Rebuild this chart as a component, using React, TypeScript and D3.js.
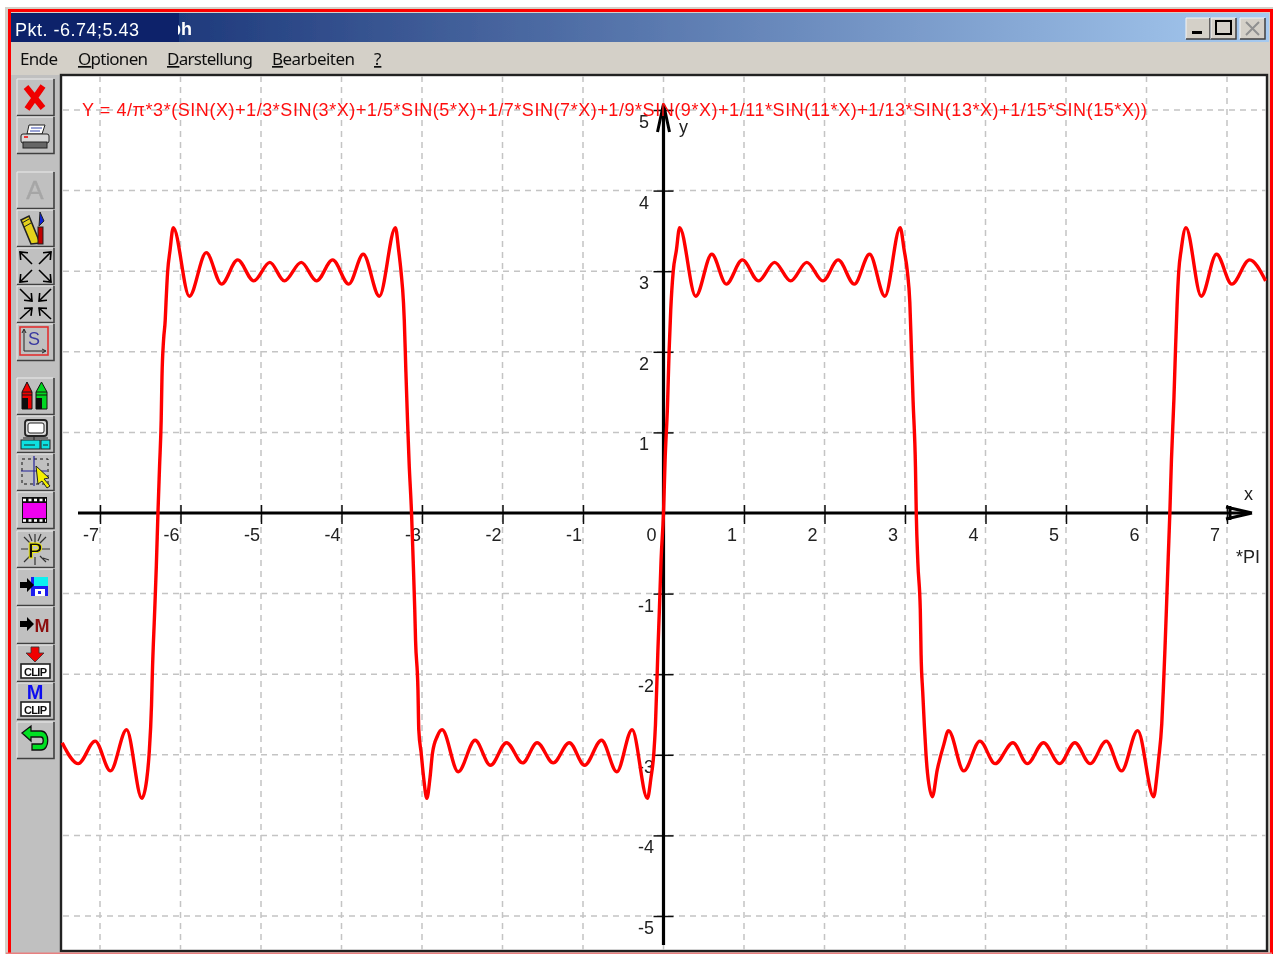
import React, { useRef, useEffect } from 'react';
import * as d3 from 'd3';

const W = 1274;
const H = 954;

// values, in axis units
const sweepAX = [-7.47, -7.27, -7.06, -6.87, -6.67, -6.48, -6.42, -6.39, -6.36, -6.35, -6.32, -6.30, -6.28, -6.26, -6.24, -6.23, -6.21, -6.19, -6.18, -6.16, -6.13, -6.09];
const sweepAY = [-2.85, -3.11, -2.83, -3.20, -2.69, -3.54, -3.31, -2.99, -2.38, -2.00, -1.20, -0.65, 0.00, 0.58, 1.15, 1.69, 2.15, 2.39, 2.61, 2.99, 3.26, 3.54];
const sweepBX = [-5.89, -5.68, -5.49, -5.29, -5.09, -4.89, -4.71, -4.50, -4.31, -4.11, -3.91, -3.73, -3.53, -3.33, -3.29, -3.26, -3.23, -3.22, -3.20, -3.18, -3.16, -3.13, -3.11, -3.09, -3.08, -3.05, -3.04, -3.01, -2.98, -2.94];
const sweepBY = [2.69, 3.23, 2.84, 3.14, 2.88, 3.11, 2.88, 3.11, 2.88, 3.14, 2.84, 3.21, 2.69, 3.54, 3.26, 2.99, 2.61, 2.39, 1.75, 1.15, 0.62, 0.00, -0.58, -1.20, -1.58, -2.20, -2.69, -2.98, -3.28, -3.54];
const sweepCX = [-2.90, -2.87, -2.81, -2.75, -2.55, -2.34, -2.15, -1.95, -1.75, -1.57, -1.37, -1.17, -0.98, -0.77, -0.58, -0.39, -0.20, -0.155, -0.12, -0.10, -0.07, -0.05, -0.03, 0.00, 0.02, 0.05, 0.07, 0.09, 0.12, 0.16, 0.20];
const sweepCY = [-3.28, -2.98, -2.77, -2.69, -3.21, -2.82, -3.13, -2.85, -3.10, -2.85, -3.10, -2.85, -3.13, -2.82, -3.21, -2.69, -3.54, -3.28, -2.98, -2.63, -1.72, -1.17, -0.58, 0.00, 0.66, 1.34, 2.02, 2.52, 2.99, 3.26, 3.54];
const sweepDX = [0.40, 0.60, 0.78, 0.98, 1.18, 1.38, 1.58, 1.78, 1.98, 2.17, 2.37, 2.56, 2.75, 2.94, 2.99, 3.03, 3.06, 3.08, 3.10, 3.13, 3.14, 3.16, 3.19, 3.20, 3.22, 3.24, 3.26, 3.28, 3.34];
const sweepDY = [2.69, 3.21, 2.84, 3.14, 2.88, 3.11, 2.88, 3.11, 2.88, 3.14, 2.84, 3.21, 2.69, 3.54, 3.26, 2.99, 2.61, 2.02, 1.40, 0.57, 0.00, -0.62, -1.20, -1.76, -2.22, -2.63, -2.98, -3.23, -3.52];
const sweepEX = [3.40, 3.48, 3.54, 3.73, 3.93, 4.12, 4.34, 4.52, 4.72, 4.92, 5.11, 5.30, 5.50, 5.69, 5.89, 6.09, 6.13, 6.15, 6.19, 6.21, 6.23, 6.25, 6.27, 6.29, 6.31, 6.34, 6.36, 6.38, 6.40, 6.43, 6.49, 6.68, 6.87, 7.06, 7.28, 7.48];
const sweepEY = [-3.19, -2.88, -2.70, -3.20, -2.83, -3.11, -2.85, -3.11, -2.85, -3.11, -2.85, -3.11, -2.83, -3.20, -2.70, -3.52, -3.25, -3.06, -2.61, -2.17, -1.67, -1.12, -0.55, 0.00, 0.66, 1.40, 2.02, 2.58, 2.99, 3.26, 3.54, 2.69, 3.21, 2.84, 3.14, 2.88];

const xTicks = [-7, -6, -5, -4, -3, -2, -1, 0, 1, 2, 3, 4, 5, 6, 7];
const yTicks = [-5, -4, -3, -2, -1, 0, 1, 2, 3, 4, 5];
const formula = 'Y = 4/π*3*(SIN(X)+1/3*SIN(3*X)+1/5*SIN(5*X)+1/7*SIN(7*X)+1/9*SIN(9*X)+1/11*SIN(11*X)+1/13*SIN(13*X)+1/15*SIN(15*X))';
const menuItems = [
  { label: 'Ende', x: 20, w: 38, ul: false },
  { label: 'Optionen', x: 78, w: 70, ul: true },
  { label: 'Darstellung', x: 167, w: 86, ul: true },
  { label: 'Bearbeiten', x: 272, w: 83, ul: true },
  { label: '?', x: 374, w: 8, ul: true },
];
const buttonTops = [79, 117, 172, 210, 248, 286, 324, 378, 416, 454, 492, 531, 569, 607, 645, 683, 722];

const sans = '"Liberation Sans", Arial, sans-serif';
const ui = '"Noto Sans", Tahoma, sans-serif';

const arrow = (x1: number, y1: number, x2: number, y2: number, key: string, color = '#000') => {
  const a = Math.atan2(y2 - y1, x2 - x1);
  const p = (d: number) => `${x2 - 8 * Math.cos(a + d)},${y2 - 8 * Math.sin(a + d)}`;
  return (
    <g key={key} stroke={color} fill="none" strokeWidth={1.6}>
      <line x1={x1} y1={y1} x2={x2} y2={y2} />
      <polyline points={`${p(0.7)} ${x2},${y2} ${p(-0.7)}`} />
    </g>
  );
};

const ClipBox = () => (
  <g>
    <rect x={4} y={19} width={29} height={14} fill="#fff" stroke="#222" strokeWidth={1.6} />
    <text x={7} y={30.5} fontFamily={sans} fontWeight="bold" fontSize={11} fill="#111" textLength={23}>CLIP</text>
  </g>
);

const icons = [
  <path d="M9 8 L26 29 M26 7 L10 30" stroke="#f00000" strokeWidth={6} fill="none" />,
  <g>
    <path d="M12 8 L28 8 L25 17 L10 17 Z" fill="#fff" stroke="#222" />
    <path d="M14 11 H25 M13 14 H23" stroke="#3344aa" />
    <rect x={4} y={17} width={28} height={9} rx={2} fill="#d8d8d8" stroke="#222" />
    <rect x={6} y={25} width={24} height={6} fill="#666" stroke="#222" />
    <line x1={7} y1={20} x2={11} y2={20} stroke="#e00" strokeWidth={1.5} />
  </g>,
  <text x={18} y={27} textAnchor="middle" fontFamily={sans} fontSize={26} fill="#a6a6a6" stroke="#a6a6a6" strokeWidth={0.4}>A</text>,
  <g>
    <path d="M4 10 L12 6 L23 33 L14 34 Z" fill="#e4d11c" stroke="#222" strokeWidth={1.6} />
    <path d="M5 13 L12 9 M7 17 L14 13" stroke="#222" />
    <rect x={21} y={17} width={5} height={17} fill="#c00000" stroke="#222" />
    <path d="M23 2 L27 11 L22 16 Z" fill="#0a22d8" stroke="#222" />
  </g>,
  <g>
    {arrow(15, 16, 3, 4, 'a')}{arrow(22, 16, 34, 4, 'b')}{arrow(15, 22, 3, 34, 'c')}{arrow(22, 22, 34, 34, 'd')}
  </g>,
  <g>
    {arrow(3, 3, 15, 15, 'a')}{arrow(34, 3, 22, 15, 'b')}{arrow(3, 33, 15, 22, 'c')}{arrow(34, 33, 22, 22, 'd')}
  </g>,
  <g>
    <rect x={3} y={3} width={28} height={28} fill="none" stroke="#e03030" strokeWidth={1.6} />
    <path d="M7 6 V27 H28" fill="none" stroke="#222" strokeWidth={1} />
    <path d="M5 9 L7 5 L9 9 M25 25 L29 27 L25 29" fill="none" stroke="#222" />
    <text x={17} y={21} textAnchor="middle" fontFamily={sans} fontSize={18} fill="#3838a0">S</text>
  </g>,
  <g>
    <path d="M5 31 V14 L10 4 L15 14 V31 Z" fill="#f00000" stroke="#111" strokeWidth={1} />
    <path d="M5 31 V20 H11 V31 Z" fill="#111" />
    <path d="M19 31 V14 L24.5 4 L30 14 V31 Z" fill="#00d820" stroke="#111" strokeWidth={1} />
    <path d="M19 31 V20 H25 V31 Z" fill="#111" />
    <path d="M5 14 H15 M5 17 H15 M19 14 H30 M19 17 H30" stroke="#111" strokeWidth={1} />
  </g>,
  <g>
    <rect x={8} y={4} width={22} height={16} rx={3} fill="#d8d8d8" stroke="#222" strokeWidth={1.8} />
    <rect x={11} y={7} width={16} height={10} rx={2} fill="#fff" stroke="#222" />
    <rect x={4} y={24} width={19} height={9} fill="#10e0e0" stroke="#222" />
    <rect x={24} y={24} width={9} height={9} fill="#10e0e0" stroke="#222" />
    <path d="M17 20 V24 M6 22 H31" stroke="#222" />
    <path d="M7 29 H18 M26 29 H31" stroke="#222" />
  </g>,
  <g>
    <rect x={5} y={5} width={26} height={25} fill="none" stroke="#111" strokeDasharray="3 3" />
    <path d="M17 2 V32 M4 17 H30" stroke="#22229a" strokeWidth={1.2} />
    <path d="M19 12 L32 24 L27 25 L33 32 L30 34 L25 27 L21 30 Z" fill="#f4f000" stroke="#222" />
  </g>,
  <g>
    <rect x={5} y={5} width={25} height={26} fill="#111" />
    <rect x={6} y={11} width={23} height={15} fill="#f000f0" />
    <path d="M6 8 H29 M6 28.5 H29" stroke="#fff" strokeWidth={2.5} strokeDasharray="3 2.5" />
  </g>,
  <g>
    <path d="M18 3 V12 M18 26 V34 M4 18 H11 M25 18 H33 M7 6 L13 12 M29 6 L23 12 M7 31 L13 25 M29 31 L23 25 M12 3 L15 10 M24 3 L21 10 M26 27 L32 29" stroke="#333" strokeWidth={1.2} />
    <text x={18} y={27} textAnchor="middle" fontFamily={sans} fontWeight="bold" fontSize={22} fill="#111" stroke="#f4f000" strokeWidth={0.8}>P</text>
  </g>,
  <g>
    <rect x={14} y={8} width={17} height={19} fill="#1a1af0" />
    <rect x={17} y={8} width={14} height={9} fill="#10f0f0" />
    <rect x={18} y={20} width={10} height={7} fill="#fff" />
    <rect x={21} y={22} width={3} height={3} fill="#1a1af0" />
    <path d="M3 13 H10 V9 L17 16 L10 23 V19 H3 Z" fill="#000" />
  </g>,
  <g>
    <path d="M3 14 H10 V10 L17 17 L10 24 V20 H3 Z" fill="#000" />
    <text x={25} y={25} textAnchor="middle" fontFamily={sans} fontWeight="bold" fontSize={18} fill="#8c1010">M</text>
  </g>,
  <g>
    <path d="M14 2 H22 V8 H27 L18 17 L9 8 H14 Z" fill="#f00000" stroke="#333" strokeWidth={0.8} />
    <ClipBox />
  </g>,
  <g>
    <text x={18} y={16} textAnchor="middle" fontFamily={sans} fontWeight="bold" fontSize={20} fill="#1010f0">M</text>
    <ClipBox />
  </g>,
  <g>
    <path d="M5 11 L14 4 V9 H24 C33 9 33 28 24 28 H15 V22 H24 C27 22 27 15 24 15 H14 V19 Z" fill="#00e020" stroke="#111" strokeWidth={1.3} />
  </g>,
];

const App = () => {
  const chartRef = useRef<SVGGElement>(null);

  // scales fitted to the tick positions in the screenshot
  const x = d3.scaleLinear().domain([-7, 7]).range([100, 1227]);
  const y = d3.scaleLinear().domain([-5, 5]).range([916, 110]);

  useEffect(() => {
    const g = d3.select(chartRef.current);
    g.selectAll('*').remove();

    // dashed grid
    const grid = g.append('g').attr('stroke', '#c4c4c4').attr('stroke-width', 1.5).attr('stroke-dasharray', '6 5');
    grid.selectAll('line.v').data(xTicks).enter().append('line').attr('class', 'v')
      .attr('x1', d => x(d)).attr('x2', d => x(d)).attr('y1', 76).attr('y2', 950);
    grid.selectAll('line.h').data(yTicks.filter(d => d !== 0)).enter().append('line').attr('class', 'h')
      .attr('y1', d => y(d)).attr('y2', d => y(d)).attr('x1', 63).attr('x2', 1266);

    // axes: ticks from d3, the thick lines drawn on top
    const xAxis = d3.axisBottom(x).tickValues(xTicks.filter(d => d !== 0)).tickSize(0).tickFormat(() => '');
    const ax = g.append('g').attr('transform', `translate(0,${y(0)})`).call(xAxis);
    ax.select('.domain').remove();
    ax.selectAll('.tick line').attr('y1', -8).attr('y2', 11).attr('stroke', '#111').attr('stroke-width', 1.5);

    const yAxis = d3.axisLeft(y).tickValues(yTicks.filter(d => d !== 0)).tickSize(0).tickFormat(() => '');
    const ay = g.append('g').attr('transform', `translate(${x(0)},0)`).call(yAxis);
    ay.select('.domain').remove();
    ay.selectAll('.tick line').attr('x1', -10).attr('x2', 10).attr('stroke', '#111').attr('stroke-width', 1.5);

    g.append('line').attr('x1', 78).attr('x2', 1250).attr('y1', y(0)).attr('y2', y(0)).attr('stroke', '#000').attr('stroke-width', 3);
    g.append('line').attr('x1', x(0)).attr('x2', x(0)).attr('y1', 106).attr('y2', 945).attr('stroke', '#000').attr('stroke-width', 3.2);

    // arrow heads
    const cy = y(0);
    g.append('path').attr('fill', 'none').attr('stroke', '#000').attr('stroke-width', 3)
      .attr('d', `M1252 ${cy} L1226 ${cy - 6} M1252 ${cy} L1226 ${cy + 6} M1230 ${cy - 7} V${cy + 7}`);
    const cx = x(0);
    g.append('path').attr('fill', 'none').attr('stroke', '#000').attr('stroke-width', 3)
      .attr('d', `M${cx} 104 L${cx - 6} 132 M${cx} 104 L${cx + 6} 132`);

    // tick labels
    const labels = g.append('g').attr('font-family', sans).attr('font-size', 18).attr('fill', '#222');
    labels.selectAll('text.x').data(xTicks).enter().append('text').attr('class', 'x')
      .attr('x', d => x(d) - 17).attr('y', 541).text(d => d);
    labels.selectAll('text.y').data(yTicks.filter(d => d !== 0)).enter().append('text').attr('class', 'y')
      .attr('x', 638).attr('y', d => y(d) + 18).attr('dx', d => (d > 0 ? 1 : 0)).text(d => d);
    labels.append('text').attr('x', 1244).attr('y', 500).text('x');
    labels.append('text').attr('x', 679).attr('y', 133).text('y');
    labels.append('text').attr('x', 1236).attr('y', 563).text('*PI');

    // curve
    const xs = [...sweepAX, ...sweepBX, ...sweepCX, ...sweepDX, ...sweepEX];
    const ys = [...sweepAY, ...sweepBY, ...sweepCY, ...sweepDY, ...sweepEY];
    const points: [number, number][] = xs.map((d, i) => [d, ys[i]]);
    const line = d3.line<[number, number]>().x(d => x(d[0])).y(d => y(d[1])).curve(d3.curveMonotoneX);
    g.append('path').attr('d', line(points)).attr('fill', 'none').attr('stroke', '#ff0000')
      .attr('stroke-width', 3.4).attr('stroke-linejoin', 'round');

    // formula
    g.append('text').attr('x', 82).attr('y', 116).attr('font-family', sans).attr('font-size', 18)
      .attr('fill', '#ff1010').attr('textLength', 1065).attr('lengthAdjust', 'spacing').text(formula);
  }, []);

  return (
    <svg width={W} height={H} style={{ position: 'absolute', left: 0, top: 0, display: 'block' }}>
      <defs>
        <linearGradient id="titleGrad" x1="0" x2="1" y1="0" y2="0">
          <stop offset="0" stopColor="#0a246a" />
          <stop offset="1" stopColor="#a6caf0" />
        </linearGradient>
        <clipPath id="titleClip">
          <rect x={178} y={13} width={40} height={29} />
        </clipPath>
        {/* the reference is an enlarged, slightly soft screenshot */}
        <filter id="soft" x="0" y="0" width="100%" height="100%">
          <feGaussianBlur stdDeviation="0.45" />
        </filter>
      </defs>

      <g filter="url(#soft)">
        <rect width={W} height={H} fill="#fff" />
        {/* window frame */}
        <rect x={5} y={7} width={1268} height={947} fill="#d4d0c8" />
        <rect x={9.5} y={10.5} width={1262} height={950} fill="none" stroke="#ff0000" strokeWidth={3} />

        {/* title bar */}
        <rect x={11} y={13} width={1258} height={29} fill="url(#titleGrad)" />
        <rect x={11} y={13} width={168} height={29} fill="#0a246a" />
        <text x={15} y={36} fontFamily={sans} fontSize={18} fill="#fff" textLength={124}>Pkt. -6.74;5.43</text>
        <text x={170} y={35} fontFamily={sans} fontSize={18} fontWeight="bold" fill="#fff" clipPath="url(#titleClip)">ph</text>

        {/* window buttons */}
        {[[1186, 24], [1211, 25], [1240, 25]].map(([bx, bw]) => (
          <g key={bx}>
            <rect x={bx} y={18} width={bw} height={21} fill="#d4d0c8" />
            <path d={`M${bx} 39 V18 H${bx + bw}`} fill="none" stroke="#f4f4f4" />
            <path d={`M${bx} 39 H${bx + bw} V18`} fill="none" stroke="#404040" strokeWidth={1.5} />
          </g>
        ))}
        <rect x={1192} y={31} width={10} height={3} fill="#000" />
        <rect x={1216} y={21} width={15} height={13} fill="none" stroke="#000" strokeWidth={2} />
        <path d="M1246 22 L1259 35 M1259 22 L1246 35" stroke="#909090" strokeWidth={2} />

        {/* menu bar */}
        <rect x={11} y={42} width={1258} height={33} fill="#d4d0c8" />
        {menuItems.map(m => (
          <text key={m.label} x={m.x} y={65} fontFamily={ui} fontSize={17} fill="#111" textLength={m.w}>
            {m.ul ? <tspan textDecoration="underline">{m.label[0]}</tspan> : m.label[0]}{m.label.slice(1)}
          </text>
        ))}

        {/* tool bar */}
        <rect x={11} y={75} width={49} height={879} fill="#c0c0c0" />
        {buttonTops.map((top, i) => (
          <g key={top} transform={`translate(17,${top})`}>
            <rect width={37} height={37} fill="#c0c0c0" />
            <path d="M0 36 V0 H36" fill="none" stroke="#ececec" strokeWidth={1} />
            <path d="M0 36.5 H37 V0" fill="none" stroke="#404040" strokeWidth={1.6} />
            {icons[i]}
          </g>
        ))}

        {/* plot area */}
        <rect x={61} y={75} width={1206} height={876} fill="#fff" stroke="#222" strokeWidth={2.4} />
        <rect x={6} y={952.5} width={1266} height={1.5} fill="#e88080" />
        <g ref={chartRef} />
      </g>
    </svg>
  );
};

export default App;
